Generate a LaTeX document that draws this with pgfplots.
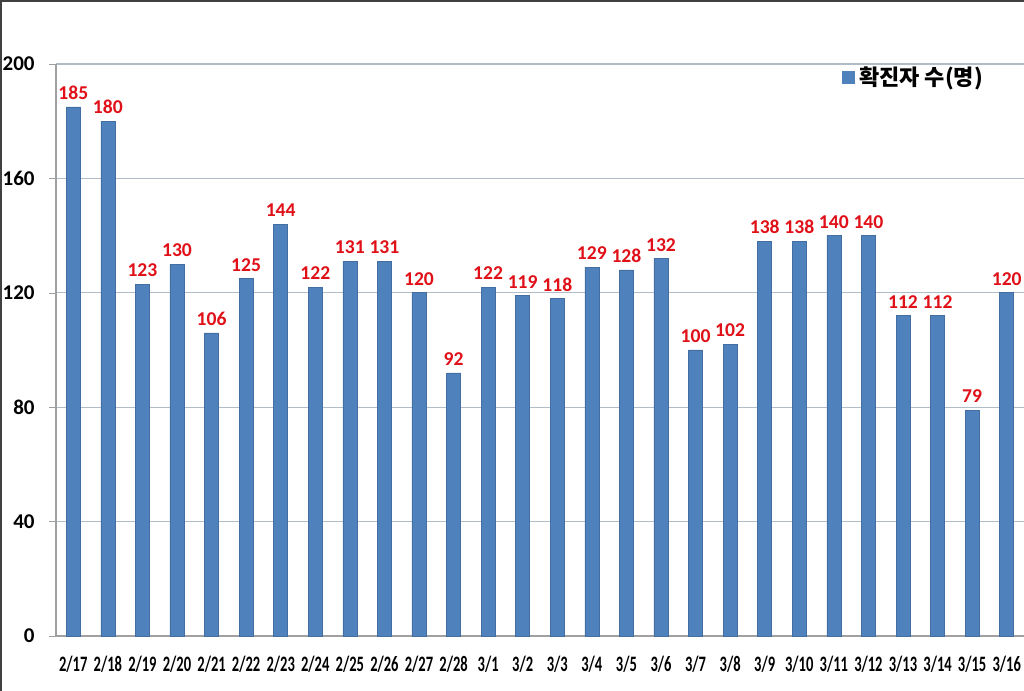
\documentclass[border=0pt]{standalone}
\usepackage{pgfplots}
\pgfplotsset{compat=1.18}
\usepackage{fontspec}
\setmainfont{Carlito}
\newfontfamily\kr{Noto Sans CJK KR}
\definecolor{barblue}{RGB}{79,129,189}
\definecolor{valred}{RGB}{224,16,24}
\definecolor{gridc}{RGB}{176,188,200}
\definecolor{axisc}{RGB}{160,160,160}
\newcommand\xl[1]{\scalebox{0.66}[1]{#1}}
\begin{document}
\begin{tikzpicture}
\useasboundingbox (0,0) rectangle (512pt,345.5pt);
\begin{axis}[
  at={(28pt,27.5pt)}, anchor=south west,
  scale only axis, width=484pt, height=286pt,
  xmin=-0.5, xmax=27.5, ymin=0, ymax=200,
  /pgf/number format/assume math mode=true,
  axis x line=bottom, axis y line=left,
  axis line style={-, draw=axisc, line width=0.6pt},
  ytick={0,40,...,200},
  ymajorgrids, grid style={draw=gridc, line width=0.6pt},
  tick align=outside,
  major tick length=3.5pt,
  major tick style={draw=axisc},
  xtick={0,...,27},
  xtick style={draw=none},
  minor xtick={-0.5,0.5,...,27.5},
  minor tick style={draw=axisc},
  minor tick length=3pt,
  xticklabels={\xl{2/17},\xl{2/18},\xl{2/19},\xl{2/20},\xl{2/21},\xl{2/22},\xl{2/23},\xl{2/24},\xl{2/25},\xl{2/26},\xl{2/27},\xl{2/28},\xl{3/1},\xl{3/2},\xl{3/3},\xl{3/4},\xl{3/5},\xl{3/6},\xl{3/7},\xl{3/8},\xl{3/9},\xl{3/10},\xl{3/11},\xl{3/12},\xl{3/13},\xl{3/14},\xl{3/15},\xl{3/16}},
  xticklabel style={font=\bfseries\fontsize{11pt}{12pt}\selectfont, anchor=north, inner sep=0pt, yshift=-6.5pt},
  yticklabel style={font=\bfseries\fontsize{10.5pt}{11pt}\selectfont, anchor=east, inner sep=0pt, xshift=-7pt},
  ybar, bar width=7pt,
  nodes near coords,
  every node near coord/.append style={font=\bfseries\fontsize{9.8pt}{10pt}\selectfont, text=valred, anchor=south, inner sep=0pt, yshift=3.5pt},
  legend style={draw=none, fill=none, at={(0.812,0.977)}, anchor=west, inner sep=0pt,
    font=\kr\bfseries\fontsize{11pt}{12pt}\selectfont},
  legend image code/.code={\fill[barblue] (0pt,-3pt) rectangle (6pt,3pt);},
  clip=false,
]
\addplot[fill=barblue, draw=barblue!85!black, line width=0.3pt] coordinates {
(0,185) (1,180) (2,123) (3,130) (4,106) (5,125) (6,144) (7,122) (8,131) (9,131)
(10,120) (11,92) (12,122) (13,119) (14,118) (15,129) (16,128) (17,132) (18,100) (19,102)
(20,138) (21,138) (22,140) (23,140) (24,112) (25,112) (26,79) (27,120)};
\addlegendentry{확진자 수(명)}
\end{axis}
\draw[line width=1.2pt, draw=black!75] (0.6pt,0) -- (0.6pt,344.9pt) -- (512pt,344.9pt);
\end{tikzpicture}
\end{document}
